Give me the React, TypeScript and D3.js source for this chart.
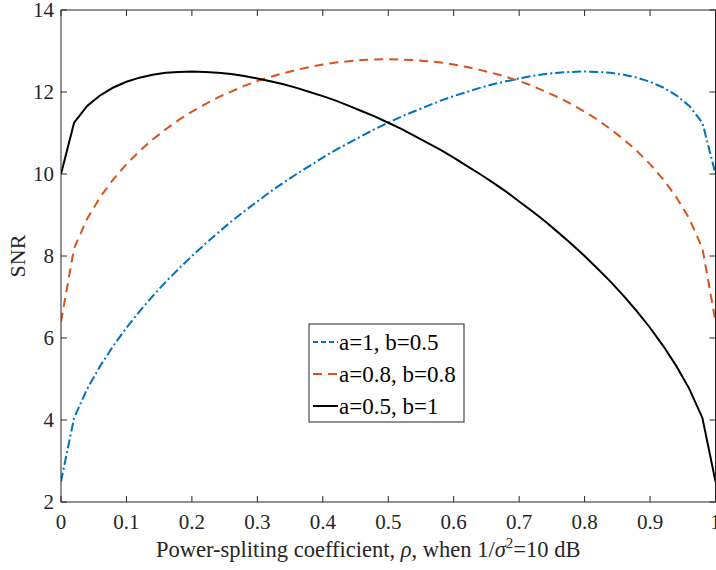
import React from 'react';
import * as d3 from 'd3';

const rho = [0, 0.02, 0.04, 0.06, 0.08, 0.1, 0.12, 0.14, 0.16, 0.18, 0.2, 0.22, 0.24, 0.26, 0.28, 0.3, 0.32, 0.34, 0.36, 0.38, 0.4, 0.42, 0.44, 0.46, 0.48, 0.5, 0.52, 0.54, 0.56, 0.58, 0.6, 0.62, 0.64, 0.66, 0.68, 0.7, 0.72, 0.74, 0.76, 0.78, 0.8, 0.82, 0.84, 0.86, 0.88, 0.9, 0.92, 0.94, 0.96, 0.98, 1];

const snrA1B05 = [2.50, 4.05, 4.76, 5.32, 5.81, 6.25, 6.65, 7.02, 7.37, 7.69, 8.00, 8.29, 8.57, 8.84, 9.09, 9.33, 9.57, 9.79, 10.00, 10.20, 10.40, 10.59, 10.76, 10.93, 11.10, 11.25, 11.40, 11.53, 11.66, 11.79, 11.90, 12.00, 12.10, 12.19, 12.26, 12.33, 12.39, 12.44, 12.47, 12.49, 12.50, 12.49, 12.47, 12.42, 12.35, 12.25, 12.11, 11.92, 11.66, 11.25, 10.00];

const snrA08B08 = [6.40, 8.19, 8.91, 9.44, 9.87, 10.24, 10.56, 10.84, 11.09, 11.32, 11.52, 11.70, 11.87, 12.01, 12.15, 12.27, 12.37, 12.46, 12.54, 12.61, 12.67, 12.72, 12.75, 12.78, 12.79, 12.80, 12.79, 12.78, 12.75, 12.72, 12.67, 12.61, 12.54, 12.46, 12.37, 12.27, 12.15, 12.01, 11.87, 11.70, 11.52, 11.32, 11.09, 10.84, 10.56, 10.24, 9.87, 9.44, 8.91, 8.19, 6.40];

const snrA05B1 = [10.00, 11.25, 11.66, 11.92, 12.11, 12.25, 12.35, 12.42, 12.47, 12.49, 12.50, 12.49, 12.47, 12.44, 12.39, 12.33, 12.26, 12.19, 12.10, 12.00, 11.90, 11.79, 11.66, 11.53, 11.40, 11.25, 11.10, 10.93, 10.76, 10.59, 10.40, 10.20, 10.00, 9.79, 9.57, 9.33, 9.09, 8.84, 8.57, 8.29, 8.00, 7.69, 7.37, 7.02, 6.65, 6.25, 5.81, 5.32, 4.76, 4.05, 2.50];

const xTicks = [0, 0.1, 0.2, 0.3, 0.4, 0.5, 0.6, 0.7, 0.8, 0.9, 1];
const yTicks = [2, 4, 6, 8, 10, 12, 14];

const seriesNames = ['a=1, b=0.5', 'a=0.8, b=0.8', 'a=0.5, b=1'];

const W = 716;
const H = 570;
const margin = { top: 10, right: 0.5, bottom: 68, left: 61 };
const font = '"Liberation Serif", "Times New Roman", serif';

export default function App() {
    const x = d3.scaleLinear().domain([0, 1]).range([margin.left, W - margin.right]);
    const y = d3.scaleLinear().domain([2, 14]).range([H - margin.bottom, margin.top]);

    const series = [
        { name: seriesNames[0], values: snrA1B05, color: '#0072BD', dash: '9,3,2,3' },
        { name: seriesNames[1], values: snrA08B08, color: '#D95319', dash: '9,6' },
        { name: seriesNames[2], values: snrA05B1, color: '#000000', dash: 'none' },
    ];

    const line = d3.line<number>()
        .x((d, i) => x(rho[i]))
        .y(d => y(d));

    const x0 = x(0), x1 = x(1), y0 = y(2), y1 = y(14);
    const tick = 6;
    const axisColor = '#262626';

    const legend = { x: 309, y: 324, w: 155, h: 98, row: 32 };

    return (
        <svg width={W} height={H} style={{ position: 'absolute', left: 0, top: 0, background: '#fff' }}
            fontFamily={font}>
            <rect x={0} y={0} width={W} height={H} fill="#fff" />
            <defs>
                <clipPath id="plotClip">
                    <rect x={x0} y={y1} width={x1 - x0} height={y0 - y1} />
                </clipPath>
            </defs>

            <g clipPath="url(#plotClip)">
                {series.map(s => (
                    <path key={s.name} d={line(s.values) || ''} fill="none" stroke={s.color}
                        strokeWidth={2} strokeDasharray={s.dash} />
                ))}
            </g>

            {/* axes box */}
            <rect x={x0} y={y1} width={x1 - x0} height={y0 - y1} fill="none" stroke={axisColor} strokeWidth={1} />

            {xTicks.map(t => (
                <g key={'x' + t}>
                    <line x1={x(t)} x2={x(t)} y1={y0} y2={y0 - tick} stroke={axisColor} />
                    <line x1={x(t)} x2={x(t)} y1={y1} y2={y1 + tick} stroke={axisColor} />
                    <text x={x(t)} y={y0 + 27} fontSize={21} textAnchor="middle" fill="#262626">{t}</text>
                </g>
            ))}
            {yTicks.map(t => (
                <g key={'y' + t}>
                    <line x1={x0} x2={x0 + tick} y1={y(t)} y2={y(t)} stroke={axisColor} />
                    <line x1={x1} x2={x1 - tick} y1={y(t)} y2={y(t)} stroke={axisColor} />
                    <text x={x0 - 7} y={y(t) + 7} fontSize={21} textAnchor="end" fill="#262626">{t}</text>
                </g>
            ))}

            <text x={(x0 + x1) / 2 - 20} y={557} fontSize={22.5} textAnchor="middle" fill="#262626">
                Power-spliting coefficient, <tspan fontStyle="italic">ρ</tspan>, when 1/<tspan fontStyle="italic">σ</tspan>
                <tspan fontSize={15} dy={-9}>2</tspan><tspan dy={9}>=10 dB</tspan>
            </text>

            <text transform={`translate(25, ${(y0 + y1) / 2}) rotate(-90)`} fontSize={22} textAnchor="middle" fill="#262626">SNR</text>

            {/* legend */}
            <rect x={legend.x} y={legend.y} width={legend.w} height={legend.h} fill="#fff" stroke={axisColor} strokeWidth={1} />
            {series.map((s, i) => {
                const ly = legend.y + 18 + i * legend.row;
                return (
                    <g key={'leg' + s.name}>
                        <line x1={legend.x + 4} x2={legend.x + 29} y1={ly} y2={ly} stroke={s.color}
                            strokeWidth={2} strokeDasharray={i === 0 ? '5,3' : s.dash} />
                        <text x={legend.x + 30} y={ly + 7.5} fontSize={23} fill="#000">{s.name}</text>
                    </g>
                );
            })}
        </svg>
    );
}
